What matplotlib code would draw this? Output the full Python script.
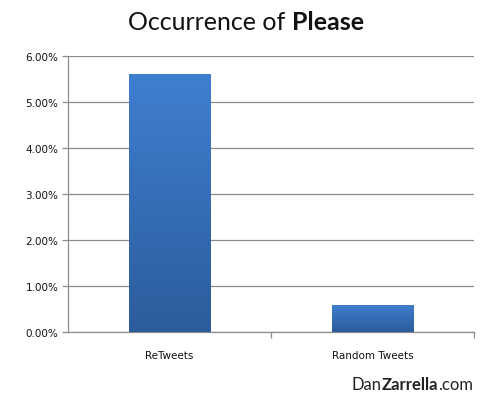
import matplotlib
matplotlib.use("Agg")
import matplotlib.pyplot as plt
import numpy as np
from matplotlib.ticker import FuncFormatter, FixedLocator

categories = ["ReTweets", "Random Tweets"]
values = [5.61, 0.59]  # percent

fig = plt.figure(figsize=(5, 4.06), dpi=100)
ax = fig.add_axes([0.136, 0.180, 0.812, 0.680])

x = np.arange(len(categories))
bars = ax.bar(x, values, width=0.4, color="#3a74c2", zorder=3)

# vertical gradient on each bar
grad = np.linspace(0, 1, 256).reshape(-1, 1)
cmap = matplotlib.colors.LinearSegmentedColormap.from_list("g", ["#2c5c9c", "#3f7fd0"])
for b in bars:
    x0, w, h = b.get_x(), b.get_width(), b.get_height()
    im = ax.imshow(grad, extent=[x0, x0 + w, 0, h], origin="lower", aspect="auto",
                   cmap=cmap, zorder=4)
    im.set_clip_path(b)

ax.set_xlim(-0.5, 1.5)
ax.set_ylim(0, 6)
ax.set_yticks(np.arange(0, 7, 1))
ax.yaxis.set_major_formatter(FuncFormatter(lambda v, p: f"{v:.2f}%"))
ax.grid(axis="y", color="#8c8c8c", lw=0.9, zorder=0)
ax.set_xticks(x)
ax.set_xticklabels(categories)
ax.xaxis.set_minor_locator(FixedLocator([0.5, 1.5]))
ax.tick_params(axis="x", which="major", length=0, pad=13, labelsize=7.5, labelcolor="#111111")
ax.tick_params(axis="x", which="minor", length=4, color="#8c8c8c", width=0.9)
ax.tick_params(axis="y", length=4, color="#8c8c8c", width=0.9, labelsize=7.5, labelcolor="#111111", pad=3)
for s in ["top", "right"]:
    ax.spines[s].set_visible(False)
for s in ["left", "bottom"]:
    ax.spines[s].set_color("#8c8c8c")
    ax.spines[s].set_linewidth(0.9)

fig.text(0.584, 0.945, "Occurrence of ", ha="right", va="center", fontsize=18,
         fontfamily="Lato", color="#111111")
fig.text(0.584, 0.945, "Please", ha="left", va="center", fontsize=18,
         fontfamily="Lato", fontweight="bold", color="#111111")

# watermark: DanZarrella.com, right aligned
renderer = fig.canvas.get_renderer()
parts = [("Dan", "normal"), ("Zarrella", "bold"), (".com", "normal")]
xr = 0.946 * fig.bbox.width
texts = []
for s, wt in parts:
    t = fig.text(0, 0.052, s, ha="left", va="center", fontsize=12, fontfamily="Lato",
                 fontweight=wt, color="#222222")
    texts.append(t)
widths = [t.get_window_extent(renderer).width for t in texts]
xpos = xr - sum(widths)
for t, w in zip(texts, widths):
    t.set_x(xpos / fig.bbox.width)
    xpos += w

fig.savefig("out.png", dpi=100)
